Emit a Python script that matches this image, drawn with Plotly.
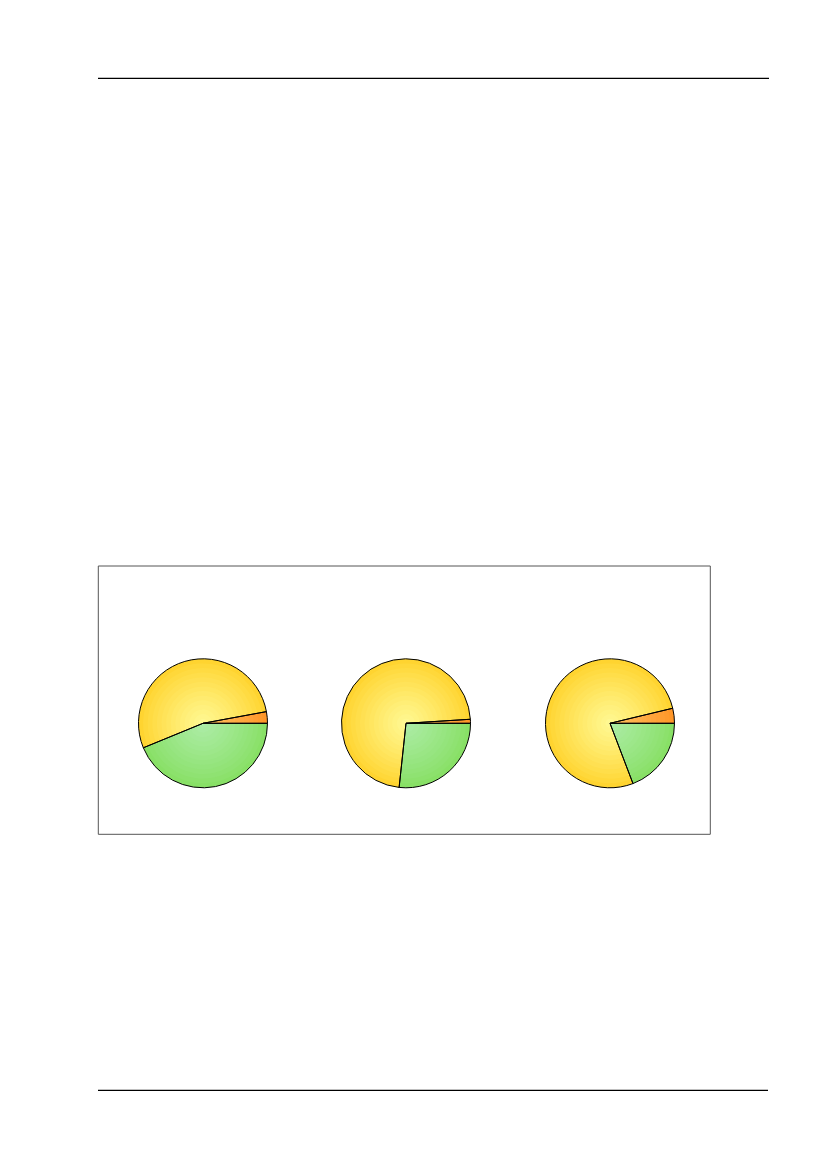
import plotly.graph_objects as go

W, H = 827, 1169
OFF = 8  # browser body margin
FW, FH = W - OFF, H - OFF

categories = ["Green", "Yellow", "Orange"]
pie1_values = [43.8, 53.3, 2.9]
pie2_values = [26.7, 72.3, 1.0]
pie3_values = [19.2, 77.05, 3.75]
edge_colors = [(136, 224, 102), (255, 212, 48), (255, 150, 40)]
center_colors = [(172, 236, 165), (255, 248, 145), (255, 190, 95)]

fig = go.Figure()


def px_x(x):
    return (x - OFF) / FW


def px_y(y):
    return 1 - (y - OFF) / FH


def mix(c1, c2, f):
    return "rgb(%d,%d,%d)" % tuple(round(a + (b - a) * f) for a, b in zip(c1, c2))


centers = [(203, 723.3), (406, 723.3), (610, 723.3)]
radius = 64.5
n_layers = 14
for vals, (cx, cy) in zip([pie1_values, pie2_values, pie3_values], centers):
    # shaded layers (radial shading approximation)
    for k in range(n_layers):
        r = radius * (1 - k / n_layers)
        f = min(1.0, (k / (n_layers - 1)) ** 0.9)
        fig.add_trace(go.Pie(
            labels=categories,
            values=vals,
            sort=False,
            direction="clockwise",
            rotation=90,
            textinfo="none",
            hoverinfo="skip",
            marker=dict(colors=[mix(e, c, f) for e, c in zip(edge_colors, center_colors)],
                        line=dict(width=0)),
            domain=dict(x=[px_x(cx - r), px_x(cx + r)],
                        y=[px_y(cy + r), px_y(cy - r)]),
            showlegend=False,
        ))
    # outline
    fig.add_trace(go.Pie(
        labels=categories,
        values=vals,
        sort=False,
        direction="clockwise",
        rotation=90,
        textinfo="none",
        hoverinfo="label+percent",
        marker=dict(colors=["rgba(0,0,0,0)"] * 3, line=dict(color="#000000", width=1)),
        domain=dict(x=[px_x(cx - radius), px_x(cx + radius)],
                    y=[px_y(cy + radius), px_y(cy - radius)]),
        showlegend=False,
    ))

shapes = [
    dict(type="line", xref="paper", yref="paper", x0=px_x(98), x1=px_x(769),
         y0=px_y(78.3), y1=px_y(78.3), line=dict(color="black", width=1.2)),
    dict(type="line", xref="paper", yref="paper", x0=px_x(98), x1=px_x(768),
         y0=px_y(1090.3), y1=px_y(1090.3), line=dict(color="black", width=1.2)),
    dict(type="rect", xref="paper", yref="paper", x0=px_x(98.3), x1=px_x(710.3),
         y0=px_y(834.3), y1=px_y(566), line=dict(color="#555555", width=1),
         fillcolor="rgba(0,0,0,0)"),
]

fig.update_layout(
    width=FW, height=FH,
    margin=dict(l=0, r=0, t=0, b=0),
    paper_bgcolor="white",
    plot_bgcolor="white",
    shapes=shapes,
)

fig.write_html("out.html")
